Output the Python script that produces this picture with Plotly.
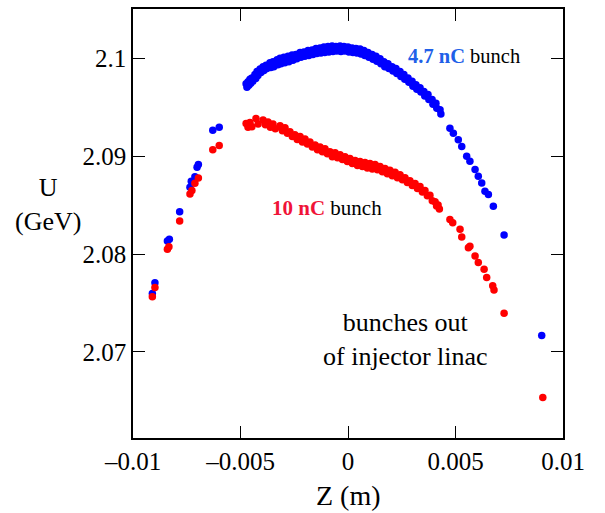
import plotly.graph_objects as go

# ---- data (Z in m, U in GeV) ----
blue_z = [
    -0.00910, -0.00898, -0.00840, -0.00831, -0.00783, -0.00735, -0.00729, -0.00712, -0.00702, -0.00696,
    -0.00629, -0.00599,
    -0.00474, -0.00470, -0.00465, -0.00461, -0.00456, -0.00452, -0.00447, -0.00443, -0.00433, -0.00429,
    -0.00423, -0.00419, -0.00409, -0.00405, -0.00395, -0.00391, -0.00381, -0.00377, -0.00363, -0.00359,
    -0.00349, -0.00345, -0.00330, -0.00326, -0.00316, -0.00312, -0.00298, -0.00294, -0.00279, -0.00275,
    -0.00260, -0.00256, -0.00242, -0.00238, -0.00223, -0.00219, -0.00205, -0.00201, -0.00186, -0.00182,
    -0.00167, -0.00163, -0.00149, -0.00145, -0.00130, -0.00126, -0.00112, -0.00108, -0.00093, -0.00089,
    -0.00074, -0.00070, -0.00056, -0.00052, -0.00037, -0.00033, -0.00019, -0.00015, 0.00000, 0.00004,
    0.00019, 0.00023, 0.00037, 0.00041, 0.00056, 0.00060, 0.00074, 0.00078, 0.00093, 0.00097,
    0.00112, 0.00116, 0.00130, 0.00134, 0.00149, 0.00153, 0.00167, 0.00171, 0.00186, 0.00190,
    0.00205, 0.00209, 0.00223, 0.00227, 0.00242, 0.00246, 0.00260, 0.00264, 0.00279, 0.00283,
    0.00298, 0.00302, 0.00316, 0.00320, 0.00335, 0.00339, 0.00353, 0.00357, 0.00372, 0.00376,
    0.00391, 0.00395, 0.00409, 0.00413, 0.00428, 0.00432,
    0.00474, 0.00490, 0.00513, 0.00529, 0.00552, 0.00567, 0.00591, 0.00606, 0.00622, 0.00637,
    0.00653, 0.00676, 0.00726, 0.00901,
]
blue_u = [
    2.07597, 2.07706, 2.08133, 2.08151, 2.08431, 2.08683, 2.08744, 2.08791, 2.08886, 2.08914,
    2.09266, 2.09296,
    2.09740, 2.09705, 2.09760, 2.09725, 2.09785, 2.09745, 2.09800, 2.09765, 2.09835, 2.09795,
    2.09865, 2.09825, 2.09890, 2.09855, 2.09915, 2.09875, 2.09930, 2.09895, 2.09955, 2.09905,
    2.09965, 2.09915, 2.09985, 2.09935, 2.10000, 2.09945, 2.10010, 2.09955, 2.10020, 2.09965,
    2.10035, 2.09980, 2.10040, 2.09995, 2.10060, 2.10010, 2.10065, 2.10020, 2.10080, 2.10030,
    2.10085, 2.10040, 2.10100, 2.10050, 2.10105, 2.10055, 2.10115, 2.10060, 2.10120, 2.10065,
    2.10125, 2.10070, 2.10120, 2.10075, 2.10125, 2.10070, 2.10120, 2.10075, 2.10115, 2.10065,
    2.10105, 2.10060, 2.10100, 2.10055, 2.10095, 2.10045, 2.10080, 2.10030, 2.10060, 2.10010,
    2.10040, 2.09990, 2.10020, 2.09970, 2.09995, 2.09945, 2.09965, 2.09915, 2.09945, 2.09895,
    2.09915, 2.09870, 2.09895, 2.09845, 2.09865, 2.09815, 2.09835, 2.09785, 2.09800, 2.09755,
    2.09765, 2.09715, 2.09730, 2.09685, 2.09700, 2.09655, 2.09660, 2.09615, 2.09630, 2.09580,
    2.09580, 2.09530, 2.09540, 2.09490, 2.09475, 2.09430,
    2.09286, 2.09235, 2.09168, 2.09100, 2.08998, 2.08947, 2.08863, 2.08795, 2.08726, 2.08642,
    2.08608, 2.08489, 2.08194, 2.07167,
]

red_z = [
    -0.00910, -0.00898, -0.00840, -0.00833, -0.00783, -0.00735, -0.00726, -0.00712, -0.00696,
    -0.00629, -0.00599,
    -0.00474, -0.00465, -0.00456, -0.00447, -0.00428, -0.00418, -0.00395, -0.00384, -0.00372, -0.00361,
    -0.00349, -0.00338, -0.00316, -0.00305, -0.00293, -0.00282, -0.00270, -0.00259, -0.00247, -0.00236,
    -0.00223, -0.00212, -0.00200, -0.00189, -0.00177, -0.00166, -0.00153, -0.00142, -0.00130, -0.00119,
    -0.00107, -0.00096, -0.00084, -0.00073, -0.00060, -0.00049, -0.00037, -0.00026, -0.00014, -0.00003,
    0.00009, 0.00020, 0.00033, 0.00044, 0.00056, 0.00067, 0.00079, 0.00090, 0.00102, 0.00113,
    0.00126, 0.00137, 0.00149, 0.00160, 0.00172, 0.00183, 0.00195, 0.00206, 0.00219, 0.00230,
    0.00242, 0.00253, 0.00265, 0.00276, 0.00288, 0.00299, 0.00312, 0.00323, 0.00335, 0.00346,
    0.00358, 0.00369, 0.00381, 0.00392, 0.00405, 0.00412, 0.00419, 0.00425,
    0.00474, 0.00487, 0.00521, 0.00529, 0.00560, 0.00567, 0.00591, 0.00606, 0.00633, 0.00645,
    0.00673, 0.00679, 0.00726, 0.00906,
]
red_u = [
    2.07564, 2.07658, 2.08049, 2.08075, 2.08337, 2.08614, 2.08649, 2.08723, 2.08777,
    2.09066, 2.09110,
    2.09335, 2.09295, 2.09345, 2.09300, 2.09385, 2.09330, 2.09370, 2.09320, 2.09350, 2.09295,
    2.09330, 2.09280, 2.09310, 2.09260, 2.09290, 2.09235, 2.09250, 2.09200, 2.09220, 2.09170,
    2.09200, 2.09145, 2.09175, 2.09125, 2.09145, 2.09095, 2.09115, 2.09065, 2.09095, 2.09045,
    2.09075, 2.09025, 2.09045, 2.08995, 2.09035, 2.08985, 2.09015, 2.08965, 2.08995, 2.08945,
    2.08975, 2.08925, 2.08955, 2.08905, 2.08945, 2.08895, 2.08935, 2.08880, 2.08925, 2.08870,
    2.08915, 2.08860, 2.08895, 2.08840, 2.08875, 2.08820, 2.08855, 2.08800, 2.08835, 2.08780,
    2.08810, 2.08760, 2.08780, 2.08730, 2.08750, 2.08700, 2.08720, 2.08670, 2.08690, 2.08635,
    2.08650, 2.08595, 2.08600, 2.08545, 2.08535, 2.08490, 2.08500, 2.08460,
    2.08354, 2.08319, 2.08252, 2.08174, 2.08065, 2.08080, 2.07981, 2.07913, 2.07845, 2.07760,
    2.07675, 2.07632, 2.07394, 2.06533,
]

x_ticks = [-0.01, -0.005, 0, 0.005, 0.01]
x_tick_labels = ["\u20130.01", "\u20130.005", "0", "0.005", "0.01"]
y_ticks = [2.07, 2.08, 2.09, 2.1]
y_tick_labels = ["2.07", "2.08", "2.09", "2.1"]

FONT = "Liberation Serif, Times New Roman, serif"

fig = go.Figure()
fig.add_trace(go.Scatter(x=blue_z, y=blue_u, mode="markers",
                         marker=dict(color="#0000ff", size=7.5, line=dict(width=0)),
                         showlegend=False, hoverinfo="skip"))
fig.add_trace(go.Scatter(x=red_z, y=red_u, mode="markers",
                         marker=dict(color="#ff0000", size=7.5, line=dict(width=0)),
                         showlegend=False, hoverinfo="skip"))

axis_common = dict(showgrid=False, zeroline=False, showline=True, linecolor="black",
                   linewidth=1.5, mirror="ticks", ticks="inside", ticklen=12,
                   tickwidth=1.2, tickcolor="black",
                   tickfont=dict(family=FONT, size=25, color="black"))

fig.update_xaxes(range=[-0.01, 0.01], tickvals=x_ticks, ticktext=x_tick_labels, **axis_common)
fig.update_yaxes(range=[2.0612, 2.10504], tickvals=y_ticks, ticktext=y_tick_labels, **axis_common)

annotations = [
    dict(text="Z (m)", xref="paper", yref="paper", x=0.5, y=-0.135, xanchor="center", yanchor="middle",
         showarrow=False, font=dict(family=FONT, size=28, color="black")),
    dict(text="U<br>(GeV)", xref="paper", yref="paper", x=-0.198, y=0.545, xanchor="center", yanchor="middle",
         showarrow=False, font=dict(family=FONT, size=26, color="black")),
    dict(text="<b><span style='color:#2060e8'>4.7 nC</span></b> bunch", xref="x", yref="y",
         x=0.00540, y=2.10025, xanchor="center", yanchor="middle", showarrow=False,
         font=dict(family=FONT, size=20.5, color="black")),
    dict(text="<b><span style='color:#f01438'>10 nC</span></b> bunch", xref="x", yref="y",
         x=-0.00098, y=2.0847, xanchor="center", yanchor="middle", showarrow=False,
         font=dict(family=FONT, size=21, color="black")),
    dict(text="bunches out<br>of injector linac", xref="x", yref="y",
         x=0.00266, y=2.0713, xanchor="center", yanchor="middle", showarrow=False,
         font=dict(family=FONT, size=26, color="black"), align="center"),
]

fig.update_layout(width=605, height=513, margin=dict(l=133, r=42, t=7, b=75),
                  paper_bgcolor="white", plot_bgcolor="white", annotations=annotations)

fig.write_html("out.html")
